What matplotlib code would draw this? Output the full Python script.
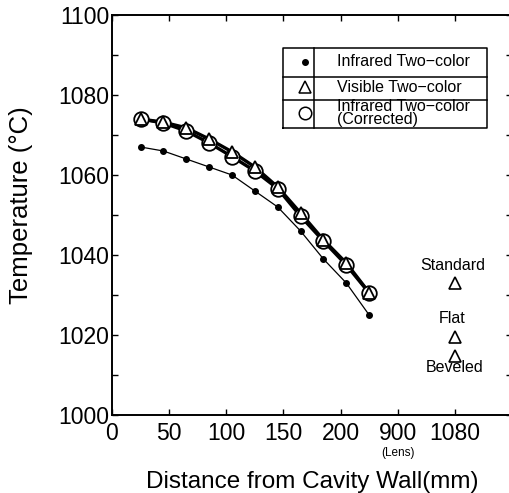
import matplotlib.pyplot as plt
from matplotlib.ticker import MultipleLocator

plt.rcParams['font.family'] = ['Liberation Sans', 'DejaVu Sans']

# distance from cavity wall (mm)
distance = [25, 45, 65, 85, 105, 125, 145, 165, 185, 205, 225]
infrared = [1067, 1066, 1064, 1062, 1060, 1056, 1052, 1046, 1039, 1033, 1025]
visible = [1074, 1073.2, 1071.8, 1069, 1065.8, 1062, 1057, 1050.5, 1043.8, 1038, 1030.6]
corrected = [1074, 1073, 1071, 1068, 1064.6, 1061, 1056.6, 1049.7, 1043.5, 1037.5, 1030.5]

# lens-side readings (visible two-color)
lens_pos = 300
lens_names = ['Standard', 'Flat', 'Beveled']
lens_temp = [1033, 1019.5, 1014.75]

tick_pos = [0, 50, 100, 150, 200, 250, 300]
tick_labels = ['0', '50', '100', '150', '200', '900', '1080']

fig = plt.figure(figsize=(5.09, 4.93), dpi=100)
ax = fig.add_axes([112 / 509, 78 / 493, 400 / 509, 400 / 493])

ax.plot(distance, infrared, color='black', lw=0.9, marker='o', ms=4,
        mfc='black', mec='black', zorder=3)
ax.plot(distance, corrected, color='black', lw=2.4, zorder=2)
ax.plot(distance, visible, color='black', lw=2.4, zorder=2)
ax.plot(distance, corrected, ls='none', marker='o', ms=10.5, mfc='white',
        mec='black', mew=1.3, zorder=4)
ax.plot(distance, visible, ls='none', marker='^', ms=9, mfc='white',
        mec='black', mew=1.3, zorder=5)

ax.plot([lens_pos] * len(lens_temp), lens_temp, ls='none', marker='^', ms=9,
        mfc='white', mec='black', mew=1.2)
ax.text(lens_pos - 2, lens_temp[0] + 4.5, lens_names[0], ha='center', va='center', fontsize=11.5)
ax.text(lens_pos - 2, lens_temp[1] + 4.7, lens_names[1], ha='center', va='center', fontsize=11.5)
ax.text(lens_pos, lens_temp[2] - 3, lens_names[2], ha='center', va='center', fontsize=11.5)

ax.set_xlim(0, 350)
ax.set_ylim(1000, 1100)
ax.set_xticks(tick_pos)
ax.set_xticklabels(tick_labels)
ax.yaxis.set_major_locator(MultipleLocator(20))
ax.yaxis.set_minor_locator(MultipleLocator(10))
ax.tick_params(axis='both', which='both', direction='in', top=True, right=True,
               width=1, labelsize=16.5)
ax.tick_params(axis='both', which='major', length=4)
ax.tick_params(axis='y', which='minor', length=4)
ax.tick_params(axis='x', pad=5)
ax.tick_params(axis='y', pad=2)
for s in ax.spines.values():
    s.set_linewidth(1.4)

ax.text(250, 990.6, '(Lens)', ha='center', va='center', fontsize=8.5)
ax.set_xlabel('Distance from Cavity Wall(mm)', fontsize=17.5, labelpad=19)
ax.set_ylabel('Temperature (\u00b0C)', fontsize=18.5)
ax.yaxis.set_label_coords(-0.198, 0.525)

# legend drawn as a small ruled table
x0, x1, xd = 149.6, 328, 176.8
y0, y1, r1, r2 = 1071.8, 1091.8, 1084.5, 1078.8
box = dict(color='black', lw=1.1, zorder=6)
ax.plot([x0, x1, x1, x0, x0], [y0, y0, y1, y1, y0], **box)
ax.plot([xd, xd], [y0, y1], **box)
ax.plot([x0, x1], [r1, r1], **box)
ax.plot([x0, x1], [r2, r2], **box)
sx = 168.5
ax.plot(sx, 1088.3, marker='o', ms=4, color='black', zorder=7)
ax.plot(sx, 1081.9, marker='^', ms=8, mfc='white', mec='black', mew=1.1, zorder=7)
ax.plot(sx, 1075.4, marker='o', ms=9, mfc='white', mec='black', mew=1.1, zorder=7)
tx = 196.5
ax.text(tx, 1088.3, 'Infrared Two\u2212color', va='center', fontsize=11.5)
ax.text(tx, 1081.8, 'Visible Two\u2212color', va='center', fontsize=11.5)
ax.text(tx, 1075.4, 'Infrared Two\u2212color\n(Corrected)', va='center',
        fontsize=11.5, linespacing=0.82)

fig.savefig('out.png', dpi=100)
